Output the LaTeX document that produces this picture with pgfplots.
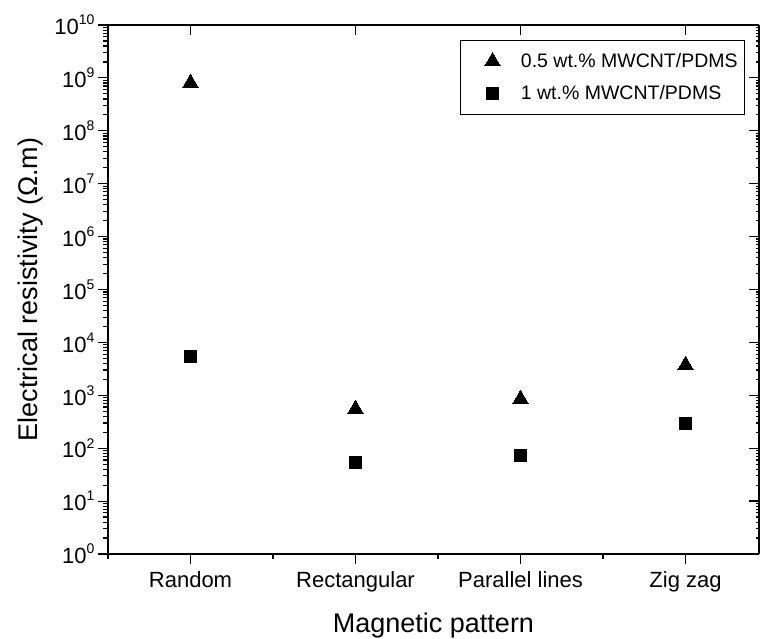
\documentclass[border=0pt]{standalone}
\usepackage{fontspec}
\setmainfont{Liberation Sans}
\usepackage{pgfplots}
\pgfplotsset{compat=1.18}
\newcommand{\tp}[1]{10\raisebox{0.45em}{\fontsize{14bp}{14bp}\selectfont #1}}

\begin{document}
\begin{tikzpicture}
\useasboundingbox (-108bp,-85bp) rectangle (652bp,554bp);
\begin{axis}[
  scale only axis, width=651bp, height=529bp,
  xmin=0.5, xmax=4.445, ymode=log, ymin=1, ymax=1e10,
  axis line style={line width=1.4bp, -},
  tick style={line width=1.2bp, black},
  major tick length=10bp, minor tick length=5bp,
  xtick={1,2,3,4},
  ytick={1,10,100,1000,1e4,1e5,1e6,1e7,1e8,1e9,1e10},
  axis x line*=bottom, axis y line*=left,
  tick align=outside,
  xticklabels={Random,Rectangular,Parallel lines,Zig zag},
  minor xtick={0.5,1.5,2.5,3.5},
  yticklabels={\tp{0},\tp{1},\tp{2},\tp{3},\tp{4},\tp{5},\tp{6},\tp{7},\tp{8},\tp{9},\tp{10}},
  minor ytick={2,3,4,5,6,7,8,9,20,30,40,50,60,70,80,90,200,300,400,500,600,700,800,900,2e3,3e3,4e3,5e3,6e3,7e3,8e3,9e3,2e4,3e4,4e4,5e4,6e4,7e4,8e4,9e4,2e5,3e5,4e5,5e5,6e5,7e5,8e5,9e5,2e6,3e6,4e6,5e6,6e6,7e6,8e6,9e6,2e7,3e7,4e7,5e7,6e7,7e7,8e7,9e7,2e8,3e8,4e8,5e8,6e8,7e8,8e8,9e8,2e9,3e9,4e9,5e9,6e9,7e9,8e9,9e9},
  ticklabel style={font=\fontsize{22bp}{26bp}\selectfont, text=black},
  xticklabel style={yshift=-4bp},
  yticklabel style={xshift=0bp},
  xlabel={Magnetic pattern},
  ylabel={Electrical resistivity (Ω.m)},
  label style={font=\fontsize{27bp}{32bp}\selectfont},
  xlabel style={at={(axis description cs:0.5,-0.1493)}, anchor=base},
  ylabel style={at={(axis description cs:-0.109,0.5)}, anchor=base},
  legend style={at={(axis description cs:0.9785,0.9716)}, anchor=north east,
    draw=black, line width=0.8bp, inner xsep=4bp, inner ysep=10bp,
    row sep=10bp,
    font=\fontsize{19.5bp}{23bp}\selectfont,
    nodes={inner sep=3bp, text height=14bp, text depth=2bp}},
  legend cell align=left,
  legend image code/.code={\draw[#1] plot coordinates {(0bp,0bp)}; \path (-28bp,0bp) (25bp,0bp);},
  clip=false,
]
\addplot[only marks, mark=triangle*, mark size=9bp, black, mark options={line width=0pt}]
  coordinates {(1,8.0e8) (2,550) (3,850) (4,3700)};
\addlegendentry{0.5 wt.\% MWCNT/PDMS}
\addplot[only marks, mark=square*, mark size=6bp, black, mark options={line width=0pt}]
  coordinates {(1,5.5e3) (2,53) (3,74) (4,290)};
\addlegendentry{1 wt.\% MWCNT/PDMS}
\end{axis}
\begin{axis}[
  scale only axis, width=651bp, height=529bp,
  xmin=0.5, xmax=4.445, ymode=log, ymin=1, ymax=1e10,
  axis line style={line width=1.4bp, -},
  tick style={line width=1.2bp, black},
  major tick length=10bp,
  xtick={1,2,3,4},
  ytick={1,10,100,1000,1e4,1e5,1e6,1e7,1e8,1e9,1e10},
  axis x line*=top, axis y line*=right,
  tick align=inside,
  xticklabels={}, yticklabels={},
]
\addplot[draw=none] coordinates {(1,1)};
\end{axis}
\end{tikzpicture}
\end{document}
